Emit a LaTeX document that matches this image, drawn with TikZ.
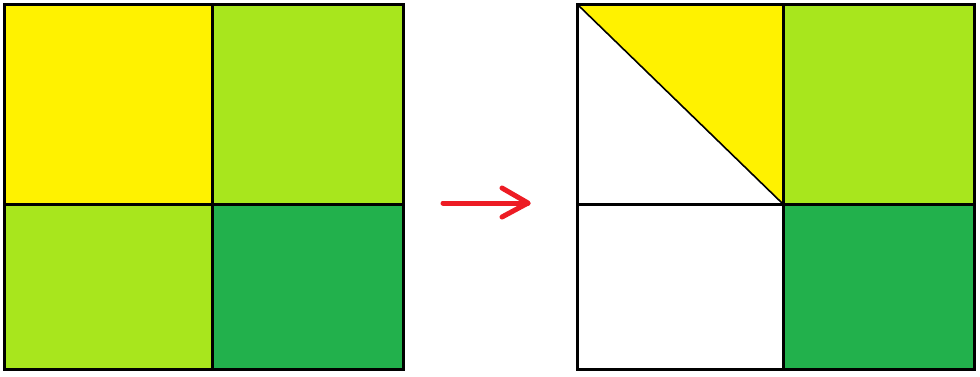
\documentclass[tikz,border=0pt]{standalone}
\definecolor{paintyellow}{HTML}{FFF200}
\definecolor{paintlime}{HTML}{A8E61D}
\definecolor{paintgreen}{HTML}{22B14C}
\definecolor{paintred}{HTML}{ED1C24}
\begin{document}
\begin{tikzpicture}[
            x=1pt, y=-1pt,
            cell/.style={draw=black, line width=3pt},
            cut/.style={draw=black, line width=1.6pt},
            move/.style={draw=paintred, line width=5pt, line cap=round, line join=round}
            ]
            \useasboundingbox (0,0) rectangle (980,376);
            % left square
            \fill[paintyellow] (4,4) rectangle (212,204);
            \fill[paintlime] (212,4) rectangle (403,204);
            \fill[paintlime] (4,204) rectangle (212,369);
            \fill[paintgreen] (212,204) rectangle (403,369);
            \draw[cell] (4,4) rectangle (403,369);
            \draw[cell] (212,4) -- (212,369);
            \draw[cell] (4,204) -- (403,204);
            % right square
            \coordinate (tl) at (577,4);
            \coordinate (mid) at (783,204);
            \fill[paintyellow] (tl) -- (783,4) -- (mid) -- cycle;
            \fill[paintlime] (783,4) rectangle (974,204);
            \fill[paintgreen] (mid) rectangle (974,369);
            \draw[cell] (577,4) rectangle (974,369);
            \draw[cell] (783,4) -- (783,369);
            \draw[cell] (577,204) -- (974,204);
            \draw[cut] (tl) -- (mid);
            % arrow
            \coordinate (from) at (443,203);
            \coordinate (to) at (528,203);
            \draw[move] (from) -- (to);
            \draw[move] (502,188) -- (to) -- (502,217);
\end{tikzpicture}
\end{document}
